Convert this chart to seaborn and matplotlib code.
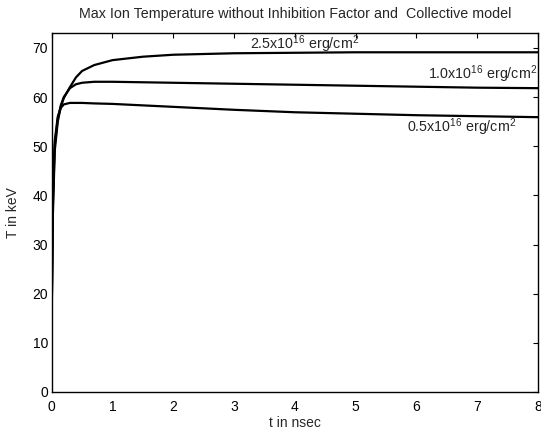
import pandas as pd
import matplotlib
matplotlib.use("Agg")
import matplotlib.pyplot as plt
import seaborn as sns

# === DATA ===
# time in nsec
t_nsec = [0, 0.02, 0.05, 0.1, 0.15, 0.2, 0.3, 0.4, 0.5, 0.7, 1.0, 1.5, 2, 3, 4, 5, 6, 7, 8]
T_05 = [15, 40, 51, 56, 57.8, 58.5, 58.8, 58.8, 58.8, 58.7, 58.6, 58.3, 58.0, 57.4, 56.9, 56.6, 56.3, 56.1, 55.9]
T_10 = [15, 38, 50, 55.5, 58.3, 60.0, 61.8, 62.6, 62.9, 63.1, 63.1, 63.0, 62.9, 62.7, 62.5, 62.3, 62.1, 61.9, 61.8]
T_25 = [15, 36, 49, 55, 58, 59.8, 62.0, 64.0, 65.3, 66.5, 67.5, 68.2, 68.6, 68.9, 69.0, 69.1, 69.1, 69.1, 69.1]

series_names = ['0.5', '1.0', '2.5']
series_labels = [r'0.5x10$^{16}$ erg/cm$^2$', r'1.0x10$^{16}$ erg/cm$^2$', r'2.5x10$^{16}$ erg/cm$^2$']
label_x = [5.84, 6.19, 3.26]
label_y = [52.9, 63.6, 69.7]

x_ticks = list(range(0, 9))
y_ticks = list(range(0, 71, 10))

df = pd.DataFrame({
    't': t_nsec * 3,
    'T': T_05 + T_10 + T_25,
    'fluence': sum([[n] * len(t_nsec) for n in series_names], []),
})

# === STYLE ===
sns.set_style("white")
plt.rcParams['font.family'] = ['Liberation Sans', 'DejaVu Sans']
plt.rcParams['mathtext.fontset'] = 'custom'
plt.rcParams['mathtext.rm'] = 'Liberation Sans'
plt.rcParams['mathtext.it'] = 'Liberation Sans:italic'

fig = plt.figure(figsize=(5.41, 4.30), dpi=100)
ax = fig.add_axes([0.0955, 0.0884, 0.899, 0.8346])

sns.lineplot(data=df, x='t', y='T', units='fluence', estimator=None,
             color='black', linewidth=1.6, ax=ax, legend=False)

for lab, lx, ly in zip(series_labels, label_x, label_y):
    ax.text(lx, ly, lab, fontsize=10.3, ha='left', va='baseline')

ax.set_xlim(0, 8)
ax.set_ylim(0, 73)
ax.set_xticks(x_ticks)
ax.set_yticks(y_ticks)
ax.tick_params(axis='x', pad=6)
ax.tick_params(axis='y', pad=2.5)
ax.tick_params(direction='in', top=True, right=True, length=3.5, width=0.8,
               labelsize=10, colors='black')
for s in ax.spines.values():
    s.set_linewidth(1.0)
    s.set_color('black')

ax.set_title('Max Ion Temperature without Inhibition Factor and  Collective model', fontsize=10.3, pad=11)
ax.set_xlabel('t in nsec', fontsize=10, labelpad=1)
ax.set_ylabel('T in keV', fontsize=10, labelpad=9)

fig.savefig('out.png', dpi=100)
